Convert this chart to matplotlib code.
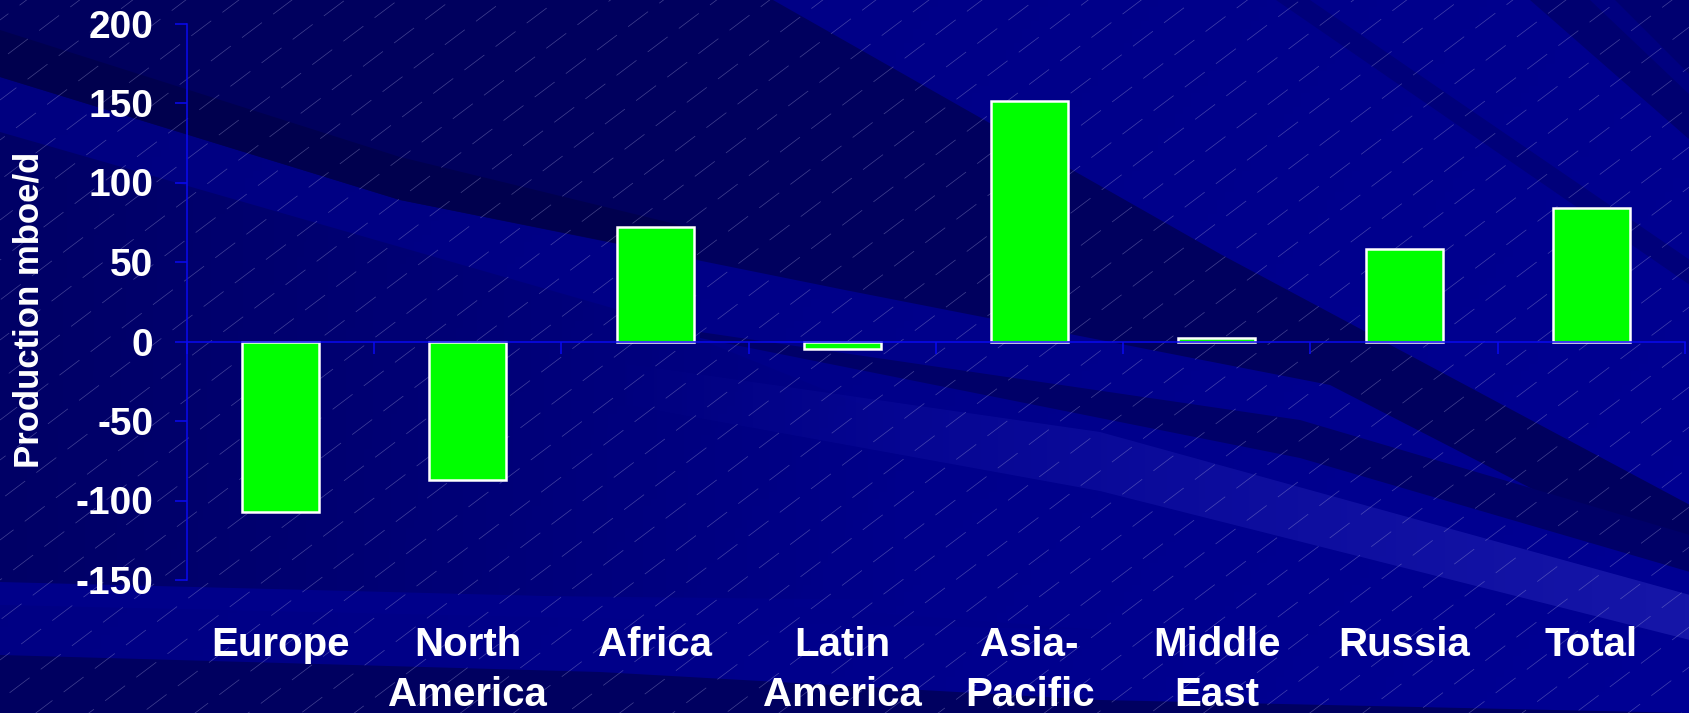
import numpy as np
import matplotlib
matplotlib.use("Agg")
import matplotlib.pyplot as plt
import matplotlib.transforms as mtransforms
from matplotlib.patches import Polygon

plt.rcParams['font.family'] = ['Liberation Sans', 'DejaVu Sans']
plt.rcParams['font.weight'] = 'bold'

# production change by region, mboe/d
regions = ['Europe', 'North\nAmerica', 'Africa', 'Latin\nAmerica',
           'Asia-\nPacific', 'Middle\nEast', 'Russia', 'Total']
change = [-107, -87, 72, -5, 151, 2, 58, 84]
yticks = [-150, -100, -50, 0, 50, 100, 150, 200]

W, H = 1690, 713
fig = plt.figure(figsize=(W / 100, H / 100), dpi=100)

# ---- slide background, drawn in pixel coordinates (y down) ----
bg = fig.add_axes([0, 0, 1, 1])
bg.set_xlim(0, W)
bg.set_ylim(H, 0)
bg.axis('off')

xx = np.linspace(0, 1, 200)[None, :]
yy = np.linspace(0, 1, 100)[:, None]
base = np.zeros((100, 200, 3))
base[..., 2] = 0.50 + 0.06 * xx + 0.02 * yy
bg.imshow(base, extent=[0, W, H, 0], aspect='auto', zorder=0)


def band(pts, col, z=1):
    p = Polygon(pts, closed=True, facecolor=col, edgecolor='none', zorder=z)
    bg.add_patch(p)
    return p


def faded_band(pts, rgb, x0, x1, a0, a1, z=1):
    # polygon filled with a colour whose opacity changes from left to right
    p = Polygon(pts, closed=True, facecolor='none', edgecolor='none')
    bg.add_patch(p)
    img = np.zeros((4, 200, 4))
    img[..., :3] = rgb
    img[..., 3] = np.linspace(a0, a1, 200)[None, :]
    im = bg.imshow(img, extent=[x0, x1, H, 0], aspect='auto', zorder=z)
    im.set_clip_path(p)


# dark mass in the upper left sweeping down to the right edge
band([(0, 0), (773, 0), (1222, 255), (1690, 505), (1690, 570),
      (1330, 385), (845, 290), (400, 200), (0, 77)], '#00005e')
# darkest streak near the top left corner
band([(0, 30), (400, 157), (700, 230), (700, 260), (400, 200), (0, 77)], '#00004e', 2)
# lower left shade, fading out to the right
faded_band([(0, 132), (647, 318), (900, 420), (900, 600), (0, 590)],
           (0, 0, 0.40), 0, 900, 1.0, 0.0)
# second dark streak under the zero line on the right
band([(700, 332), (1300, 420), (1690, 535), (1690, 572), (1300, 458), (700, 338)], '#000068')

# top right corner streaks
band([(1276, 0), (1310, 0), (1690, 260), (1690, 285)], '#00007a')
band([(1530, 0), (1690, 0), (1690, 140)], '#000070')
band([(1590, 0), (1615, 0), (1690, 75), (1690, 95)], '#000080', 2)

# light streak towards the lower right
faded_band([(600, 360), (1100, 432), (1690, 595), (1690, 640), (1100, 491), (600, 400)],
           (0.09, 0.09, 0.66), 600, 1690, 0.0, 1.0, 2)

# bottom strips
band([(0, 582), (700, 600), (1100, 630), (0, 605)], '#00008a')
band([(0, 655), (600, 672), (1100, 700), (1690, 713), (0, 713)], '#000060')

# fine dashed diagonal hatching
slope = np.tan(np.radians(37))
px = 72 / 100
for k, c in enumerate(np.arange(-20, H + slope * W + 60, 40)):
    xs = np.array([0, W])
    ys = c - slope * xs
    bg.plot(xs, ys, color='#a8a8dc', lw=0.5, alpha=0.4, zorder=3,
            linestyle=((k * 29 % 78) * px, (50 * px, 28 * px)), dash_capstyle='butt')

# ---- chart ----
ax = fig.add_axes([187 / W, 133 / H, 1498 / W, 556.5 / H])
ax.patch.set_alpha(0)
x = np.arange(len(regions))
ax.bar(x, change, width=0.41, color='#00ff00', edgecolor='white', linewidth=1.8, zorder=1)

blue = '#0a0af0'
ax.set_xlim(-0.5, len(regions) - 0.5)
ax.set_ylim(-150, 200)
ax.spines['top'].set_visible(False)
ax.spines['right'].set_visible(False)
ax.spines['left'].set_color(blue)
ax.spines['left'].set_linewidth(1.1)
ax.spines['bottom'].set_position(('data', 0))
ax.spines['bottom'].set_color(blue)
ax.spines['bottom'].set_linewidth(1.1)

ax.set_xticks(np.arange(-0.5, len(regions), 1))
ax.set_xticklabels([])
ax.set_yticks(yticks)
ax.set_yticklabels([str(v) for v in yticks])
ax.tick_params(axis='both', direction='out', length=8.6, width=1.1, color=blue)
ax.tick_params(axis='y', labelsize=28, labelcolor='white', pad=15.5)

trans = mtransforms.blended_transform_factory(ax.transData, fig.transFigure)
for i, name in enumerate(regions):
    ax.text(x[i], 1 - 626 / H, name, transform=trans, ha='center', va='top',
            fontsize=29, color='white', fontweight='bold', linespacing=1.4)

fig.text(29 / W, 1 - 310 / H, 'Production mboe/d', rotation=90, ha='center', va='center',
         fontsize=25, color='white', fontweight='bold')

fig.savefig('out.png', dpi=100)
